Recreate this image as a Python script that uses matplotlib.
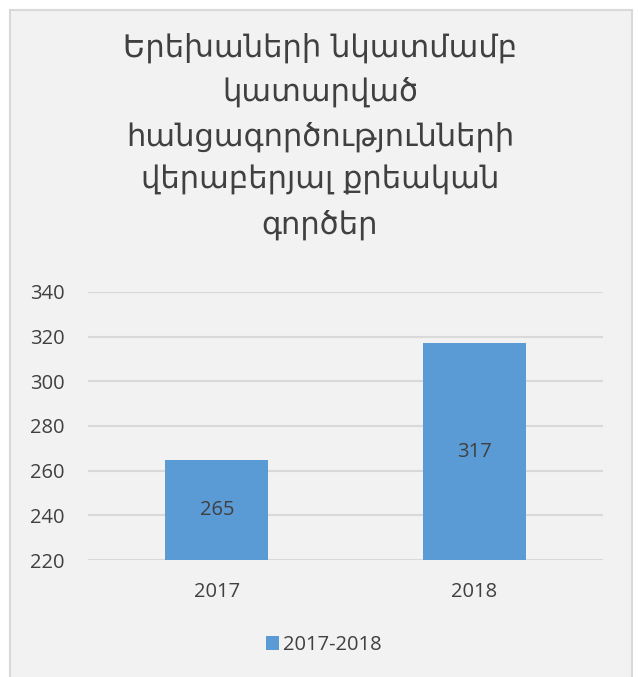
import matplotlib.pyplot as plt
from matplotlib.patches import Rectangle

# -----------------------------
# Data
# -----------------------------
years = ["2017", "2018"]
cases = [265, 317]
series_name = "2017-2018"
title_lines = [
    "Երեխաների նկատմամբ",
    "կատարված",
    "հանցագործությունների",
    "վերաբերյալ քրեական",
    "գործեր",
]
y_ticks = [220, 240, 260, 280, 300, 320, 340]

BAR_COLOR = "#5B9BD5"
BG_COLOR = "#F2F2F2"
TEXT_COLOR = "#404040"
GRID_COLOR = "#D9D9D9"
LABEL_SIZE = 14.5

W, H = 638, 677
fig = plt.figure(figsize=(W / 100, H / 100), dpi=100)
fig.patch.set_facecolor("white")

# chart area box
fig.patches.append(Rectangle((10 / W, -0.01), 622 / W, (H - 10) / H + 0.01,
                             transform=fig.transFigure, facecolor=BG_COLOR,
                             edgecolor=GRID_COLOR, linewidth=1.5, zorder=-5))

fig.text(320 / W, 1 - 136 / H, "\n".join(title_lines), ha="center", va="center",
         fontsize=22, color=TEXT_COLOR, family="DejaVu Sans",
         linespacing=1.58)

ax = fig.add_axes([88 / W, 1 - 560 / H, 515 / W, 268 / H])
ax.set_facecolor("none")

x = range(len(years))
bars = ax.bar(x, [c - y_ticks[0] for c in cases], bottom=y_ticks[0], width=0.4,
              color=BAR_COLOR, label=series_name, zorder=2)

for bar, val in zip(bars, cases):
    ax.text(bar.get_x() + bar.get_width() / 2, (val + y_ticks[0]) / 2, str(val),
            ha="center", va="center", fontsize=LABEL_SIZE, color=TEXT_COLOR,
            family="Open Sans")

ax.set_xlim(-0.5, 1.5)
ax.set_ylim(y_ticks[0], y_ticks[-1])
ax.set_yticks(y_ticks)
ax.set_xticks(list(x))
ax.set_xticklabels(years)
ax.grid(axis="y", color=GRID_COLOR, linewidth=1.5, zorder=0)
for s in ax.spines.values():
    s.set_visible(False)
ax.tick_params(length=0, labelsize=LABEL_SIZE, colors=TEXT_COLOR, pad=0)
ax.tick_params(axis="y", pad=17)
ax.tick_params(axis="x", pad=16)
for lbl in ax.get_xticklabels() + ax.get_yticklabels():
    lbl.set_family("Open Sans")

leg = fig.legend(loc="center", bbox_to_anchor=(324 / W, 1 - 645 / H), frameon=False,
                 handlelength=0.65, handleheight=0.65, handletextpad=0.2,
                 prop={"family": "Open Sans", "size": LABEL_SIZE})
for t in leg.get_texts():
    t.set_color(TEXT_COLOR)

fig.savefig("out.png", dpi=100)
